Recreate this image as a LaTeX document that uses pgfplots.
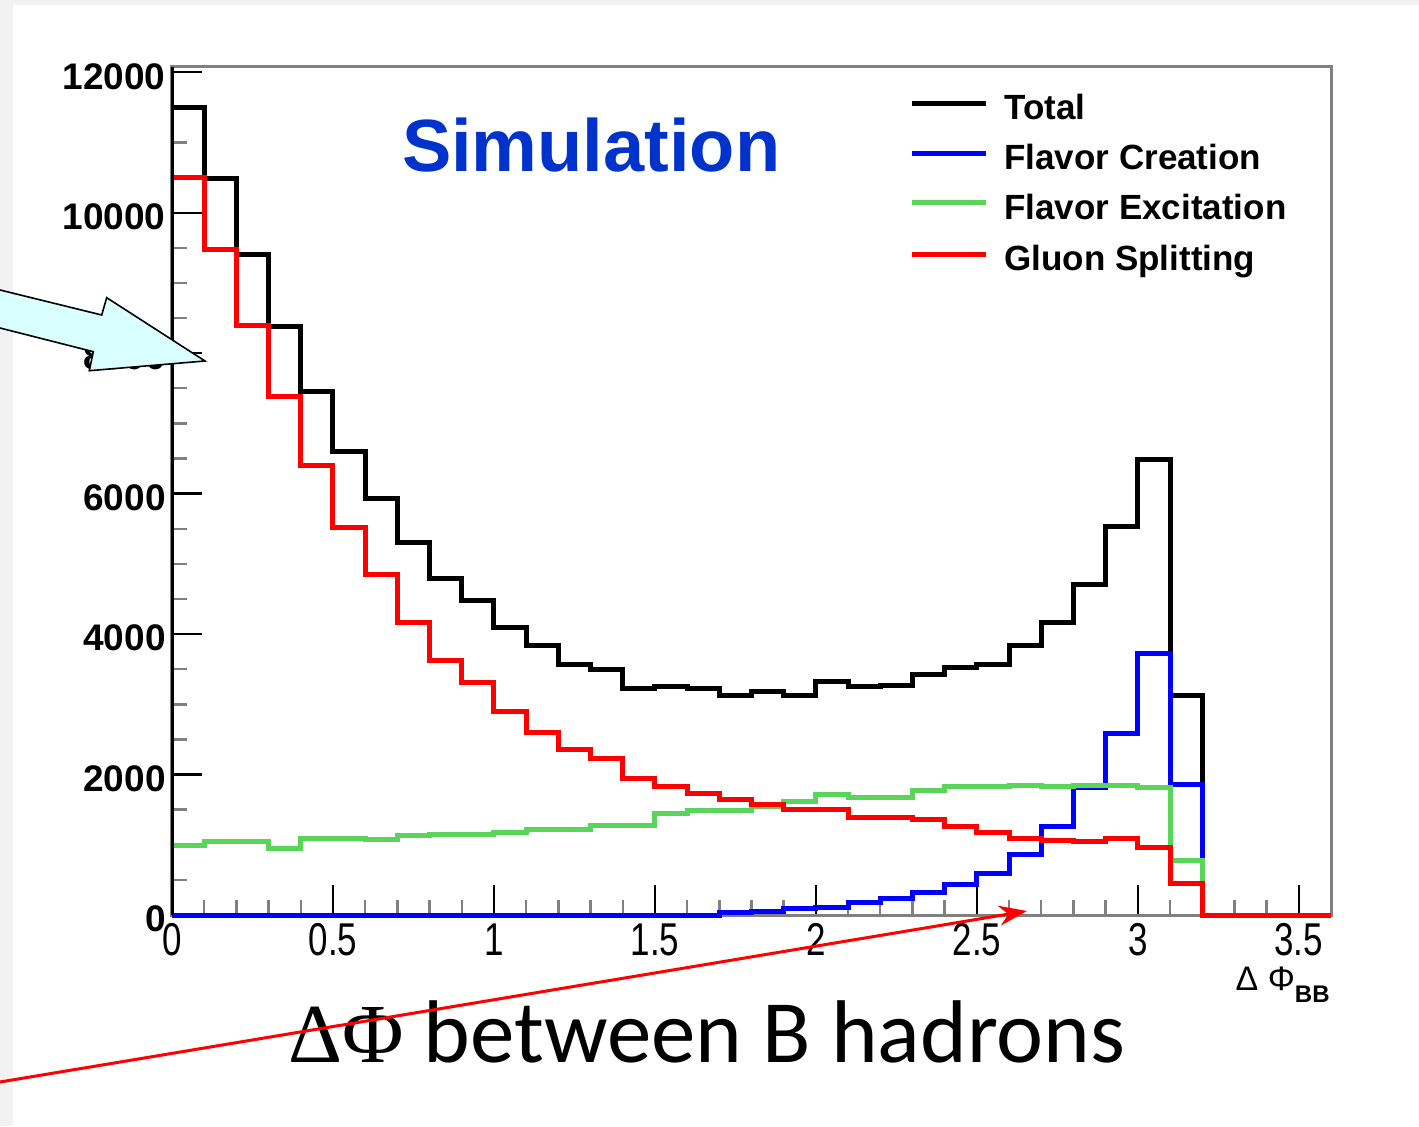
\documentclass[border=0pt]{standalone}
\usepackage{graphicx}
\usepackage{fontspec}
\setmainfont{Liberation Sans}
\newfontfamily\carlito{Carlito}
\newfontfamily\lserif{Liberation Serif}
\usepackage{pgfplots}
\pgfplotsset{compat=1.18}
\usetikzlibrary{arrows.meta}
\definecolor{rootgreen}{RGB}{89,213,89}
\definecolor{simblue}{RGB}{0,51,204}
\definecolor{arrowcyan}{RGB}{218,255,255}
\definecolor{bggray}{RGB}{242,242,242}
\begin{document}
\begin{tikzpicture}
\useasboundingbox (-86pt,-105.5pt) rectangle (623.5pt,457.5pt);
\fill[bggray] (-86pt,-105.5pt) rectangle (623.5pt,457.5pt);
\fill[white] (-79.5pt,-105.5pt) rectangle (623.5pt,455pt);
\begin{axis}[
  at={(0pt,0pt)}, anchor=south west,
  width=579.5pt, height=424pt, scale only axis,
  xmin=0, xmax=3.6, ymin=0, ymax=12075,
  clip=false,
  scaled y ticks=false, scaled x ticks=false,
  axis line style={gray, line width=1.5pt},
  xtick={0,0.5,1,1.5,2,2.5,3,3.5},
  ytick={0,2000,4000,6000,8000,10000,12000},
  minor x tick num=4, minor y tick num=3,
  tick align=inside, tick pos=left,
  major tick length=15pt, minor tick length=7.5pt,
  major tick style={black, line width=1.2pt},
  minor tick style={gray, line width=1.2pt},
  /pgf/number format/assume math mode=true,
  /pgf/number format/1000 sep={},
  xticklabel={\scalebox{0.76}[1]{\pgfmathprintnumber{\tick}}},
  yticklabel={\pgfmathprintnumber{\tick}},
  xticklabel style={font=\fontsize{23}{23}\selectfont, inner sep=1pt, yshift=-3pt},
  yticklabel style={font=\bfseries\fontsize{18.5}{18.5}\selectfont, inner sep=1pt, xshift=-2pt, yshift=-2pt},
  every axis plot/.append style={line width=2.5pt, const plot},
]
% Total
\addplot[black] coordinates {
(0,11500) (0.1,10490) (0.2,9410) (0.3,8380) (0.4,7460) (0.5,6600) (0.6,5930) (0.7,5300)
(0.8,4790) (0.9,4480) (1.0,4100) (1.1,3840) (1.2,3570) (1.3,3490) (1.4,3230) (1.5,3260)
(1.6,3230) (1.7,3120) (1.8,3180) (1.9,3120) (2.0,3330) (2.1,3250) (2.2,3270) (2.3,3430)
(2.4,3530) (2.5,3570) (2.6,3840) (2.7,4170) (2.8,4710) (2.9,5530) (3.0,6490) (3.1,3120)
(3.2,0) (3.3,0) (3.4,0) (3.5,0) (3.6,0)};
% Flavor Creation
\addplot[blue] coordinates {
(0,0) (0.1,0) (0.2,0) (0.3,0) (0.4,0) (0.5,0) (0.6,0) (0.7,0)
(0.8,0) (0.9,0) (1.0,0) (1.1,0) (1.2,0) (1.3,0) (1.4,0) (1.5,0)
(1.6,0) (1.7,40) (1.8,50) (1.9,90) (2.0,100) (2.1,175) (2.2,230) (2.3,320)
(2.4,430) (2.5,585) (2.6,855) (2.7,1260) (2.8,1810) (2.9,2590) (3.0,3720) (3.1,1860)
(3.2,0) (3.3,0) (3.4,0) (3.5,0) (3.6,0)};
% Flavor Excitation
\addplot[rootgreen] coordinates {
(0,990) (0.1,1040) (0.2,1040) (0.3,950) (0.4,1090) (0.5,1090) (0.6,1080) (0.7,1130)
(0.8,1150) (0.9,1150) (1.0,1170) (1.1,1220) (1.2,1220) (1.3,1280) (1.4,1280) (1.5,1450)
(1.6,1490) (1.7,1490) (1.8,1540) (1.9,1610) (2.0,1720) (2.1,1680) (2.2,1680) (2.3,1770)
(2.4,1830) (2.5,1830) (2.6,1840) (2.7,1830) (2.8,1840) (2.9,1850) (3.0,1810) (3.1,770)
(3.2,0) (3.3,0) (3.4,0) (3.5,0) (3.6,0)};
% Gluon Splitting
\addplot[red] coordinates {
(0,10500) (0.1,9480) (0.2,8390) (0.3,7380) (0.4,6400) (0.5,5520) (0.6,4850) (0.7,4170)
(0.8,3630) (0.9,3310) (1.0,2900) (1.1,2600) (1.2,2350) (1.3,2230) (1.4,1950) (1.5,1830)
(1.6,1730) (1.7,1640) (1.8,1580) (1.9,1500) (2.0,1500) (2.1,1390) (2.2,1390) (2.3,1360)
(2.4,1260) (2.5,1170) (2.6,1090) (2.7,1060) (2.8,1040) (2.9,1090) (3.0,960) (3.1,450)
(3.2,0) (3.3,0) (3.4,0) (3.5,0) (3.6,0)};
\end{axis}
% left axis line in black
\draw[black, line width=1.5pt] (0pt,0pt) -- (0pt,424pt);
% legend
\begin{scope}[line width=2.5pt]
\draw[black] (369.8pt,405.8pt) -- (407pt,405.8pt);
\draw[blue] (369.8pt,380.8pt) -- (407pt,380.8pt);
\draw[rootgreen] (369.8pt,356.2pt) -- (407pt,356.2pt);
\draw[red] (369.8pt,330.4pt) -- (407pt,330.4pt);
\end{scope}
\begin{scope}[every node/.style={anchor=base west, inner sep=0pt, font=\bfseries\fontsize{17.5}{17.5}\selectfont}]
\node at (416pt,397.5pt) {Total};
\node at (416pt,372.5pt) {Flavor Creation};
\node at (416pt,347.9pt) {Flavor Excitation};
\node at (416pt,322.1pt) {Gluon Splitting};
\end{scope}
% Simulation label
\node[anchor=base west, inner sep=0pt, text=simblue, font=\bfseries\fontsize{37}{37}\selectfont] at (114.8pt,371.7pt) {Simulation};
% x axis title
\node[anchor=base east, inner sep=0pt, font=\fontsize{17}{17}\selectfont] at (579pt,-37.9pt) {Δ Φ\raisebox{-0.35em}{\fontsize{12}{12}\selectfont\bfseries BB}};
% caption text
\node[anchor=base west, inner sep=0pt] at (58pt,-73.5pt) {\lserif\fontsize{42}{42}\selectfont ΔΦ\carlito\fontsize{44.5}{44.5}\selectfont\ between B hadrons};
% cyan block arrow
\filldraw[fill=arrowcyan, draw=black, line width=0.8pt, line join=miter]
 (-86pt,312.5pt) -- (-35.15pt,300pt) -- (-32.65pt,308.65pt) -- (16.5pt,277pt)
 -- (-41.35pt,272.15pt) -- (-39.35pt,281.65pt) -- (-86pt,293.5pt);
% red thin arrow
\draw[red, line width=1.5pt, -{Stealth[length=14pt,width=10pt]}] (-86pt,-83.5pt) -- (427.5pt,2pt);
\end{tikzpicture}
\end{document}
